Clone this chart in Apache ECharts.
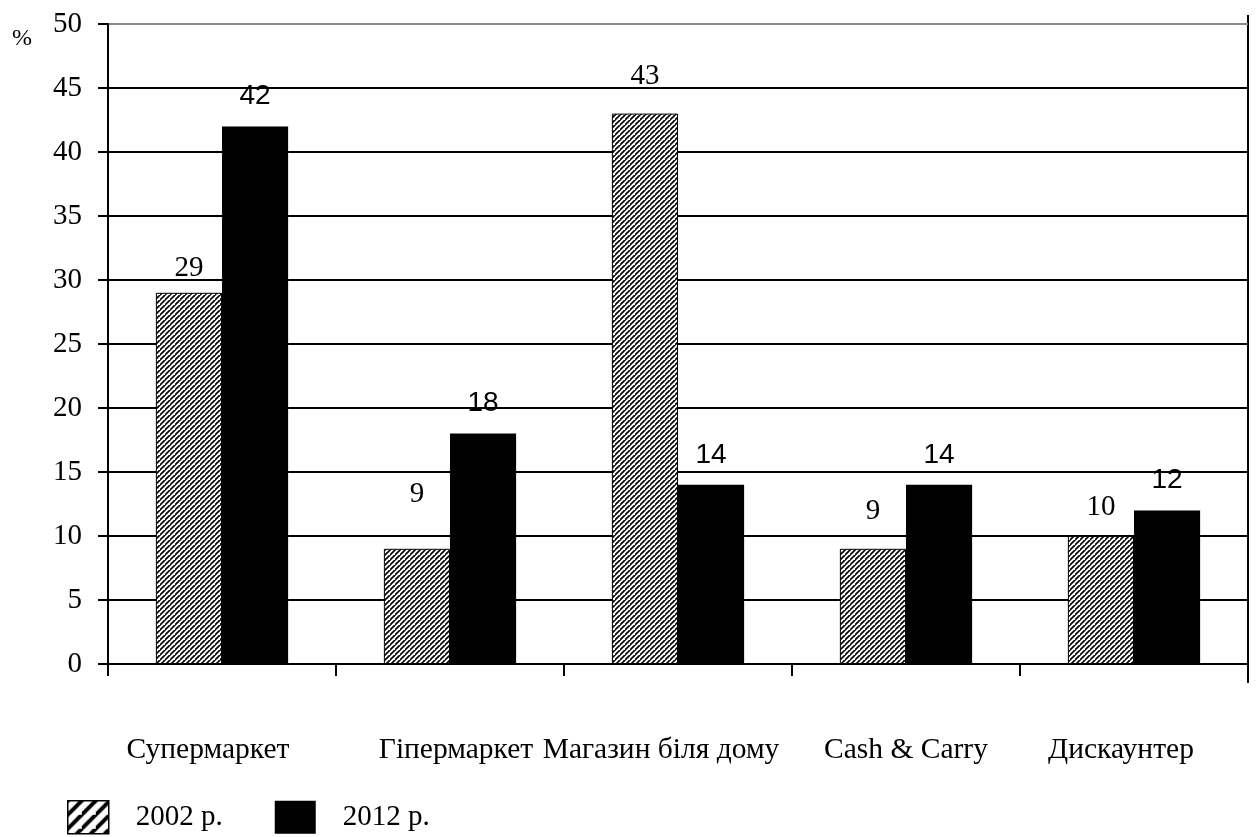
<!DOCTYPE html>
<html>
<head>
<meta charset="utf-8">
<script src="https://cdn.jsdelivr.net/npm/echarts@6/dist/echarts.min.js"></script>
<style>
  html, body { margin: 0; padding: 0; background: #fff; }
  #chart { width: 1257px; height: 837px; }
</style>
</head>
<body>
<div id="chart"></div>
<script>
// Store formats and their shares, %
const categories = ['Супермаркет', 'Гіпермаркет', 'Магазин біля дому', 'Cash & Carry', 'Дискаунтер'];
const values2002 = [29, 9, 43, 9, 10];
const values2012 = [42, 18, 14, 14, 12];
const seriesNames = ['2002 р.', '2012 р.'];
const yTicks = [0, 5, 10, 15, 20, 25, 30, 35, 40, 45, 50];

// Extra vertical lift for each value label (px)
const lift2002 = [-5, -35, -18, -18, -9];
const lift2012 = [-11, -11, -11, -11, -11];
// Horizontal nudges of category names (px)
const catShift = [-14, 6, -17, 0, -13];

const serif = '"Liberation Serif", "DejaVu Serif", serif';
const sans = '"Liberation Sans", Arial, sans-serif';

// Diagonal hatch pattern
function hatch(size, width) {
  const c = document.createElement('canvas');
  c.width = size; c.height = size;
  const g = c.getContext('2d');
  g.fillStyle = '#fff';
  g.fillRect(0, 0, size, size);
  g.strokeStyle = '#000';
  g.lineWidth = width;
  g.beginPath();
  g.moveTo(-1, size + 1); g.lineTo(size + 1, -1);
  g.moveTo(-size - 1, size + 1); g.lineTo(1, -1);
  g.moveTo(size - 1, 2 * size + 1); g.lineTo(2 * size + 1, size - 1);
  g.stroke();
  return c;
}
const fineHatch = { image: hatch(5, 1.6), repeat: 'repeat' };
const wideHatch = { image: hatch(14, 4), repeat: 'repeat' };

const rich = {};
catShift.forEach((s, i) => {
  rich['c' + i] = {
    fontFamily: serif, fontSize: 29.5, color: '#000',
    padding: s < 0 ? [0, -2 * s, 0, 0] : [0, 0, 0, 2 * s]
  };
});

const chart = echarts.init(document.getElementById('chart'), null, { renderer: 'canvas' });
chart.setOption({
  animation: false,
  backgroundColor: '#fff',
  grid: { left: 108, right: 9, top: 24, bottom: 173, containLabel: false },
  legend: {
    left: 62, top: 795,
    itemWidth: 41, itemHeight: 33, itemGap: 52,
    icon: 'rect',
    textStyle: { fontFamily: serif, fontSize: 29, color: '#000', padding: [0, 0, 0, 22] },
    data: [
      { name: seriesNames[0], itemStyle: { color: wideHatch, borderColor: '#000', borderWidth: 1.5 } },
      { name: seriesNames[1], itemStyle: { color: '#000', borderWidth: 0 } }
    ]
  },
  xAxis: {
    type: 'category',
    data: categories,
    axisLine: { show: true, lineStyle: { color: '#000', width: 2 } },
    axisTick: { show: true, alignWithLabel: false, length: 12, lineStyle: { color: '#000', width: 2 } },
    axisLabel: {
      margin: 71,
      interval: 0,
      formatter: (v, i) => '{c' + i + '|' + v + '}',
      rich: rich
    },
    splitLine: { show: false }
  },
  yAxis: {
    type: 'value',
    min: yTicks[0], max: yTicks[yTicks.length - 1], interval: 5,
    axisLine: { show: true, lineStyle: { color: '#000', width: 2 } },
    axisTick: { show: true, inside: false, length: 10, lineStyle: { color: '#000', width: 2 } },
    axisLabel: { margin: 26, fontFamily: serif, fontSize: 29, color: '#000' },
    splitLine: {
      show: true,
      lineStyle: {
        color: ['#000', '#000', '#000', '#000', '#000', '#000', '#000', '#000', '#000', '#000', '#8a8a8a'],
        width: 2
      }
    }
  },
  graphic: [
    { type: 'text', left: 12, top: 27, style: { text: '%', font: '24px ' + serif, fill: '#000' } },
    { type: 'line', shape: { x1: 1248, y1: 15, x2: 1248, y2: 683 }, style: { stroke: '#000', lineWidth: 2 } }
  ],
  series: [
    {
      name: seriesNames[0],
      type: 'bar',
      barGap: '0%',
      barCategoryGap: '42%',
      itemStyle: { color: fineHatch, borderColor: '#000', borderWidth: 1 },
      label: {
        show: true, position: 'top', distance: 5,
        fontFamily: serif, fontSize: 29, color: '#000'
      },
      data: values2002.map((v, i) => ({ value: v, label: { offset: [0, lift2002[i]] } }))
    },
    {
      name: seriesNames[1],
      type: 'bar',
      barGap: '0%',
      barCategoryGap: '42%',
      itemStyle: { color: '#000' },
      label: {
        show: true, position: 'top', distance: 5,
        fontFamily: sans, fontSize: 28, color: '#000'
      },
      data: values2012.map((v, i) => ({ value: v, label: { offset: [0, lift2012[i]] } }))
    }
  ]
});
</script>
</body>
</html>
